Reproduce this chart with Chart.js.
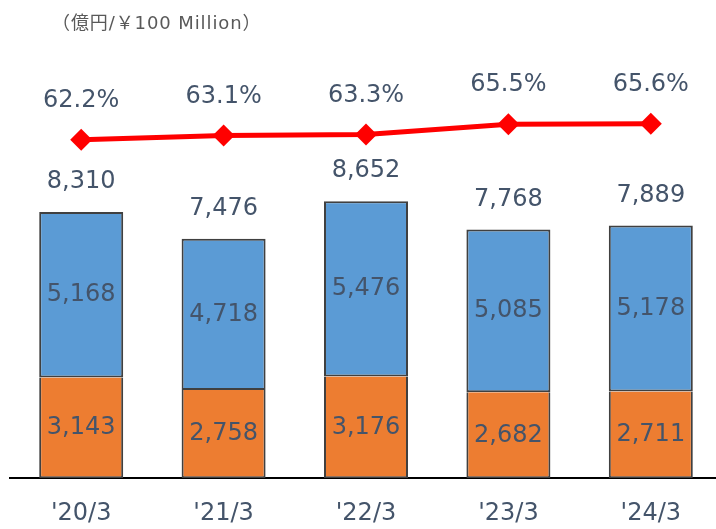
<!DOCTYPE html>
<html lang="ja">
<head>
<meta charset="UTF-8">
<title>Chart</title>
<script src="https://cdn.jsdelivr.net/npm/chart.js"></script>
<style>
    body {
        margin: 0;
        width: 716px;
        height: 529px;
        overflow: hidden;
        background: #fff;
        font-family: "DejaVu Sans", Verdana, sans-serif;
    }
    #wrap {
        position: relative;
        width: 734px;
        height: 557px;
        margin-left: -1px;
    }
    .unit {
        position: absolute;
        left: 53px;
        top: 8px;
        font-size: 18px;
        letter-spacing: 0.9px;
        color: #595959;
        font-family: "DejaVu Sans", "Noto Sans CJK JP", sans-serif;
    }
</style>
</head>
<body>
<div id="wrap">
    <canvas id="chart" width="734" height="557"></canvas>
    <div class="unit">（億円/￥100 Million）</div>
</div>
<script>
    const categories = ["'20/3", "'21/3", "'22/3", "'23/3", "'24/3"];
    const lowerValues = [3143, 2758, 3176, 2682, 2711];
    const upperValues = [5168, 4718, 5476, 5085, 5178];
    const totals = [8310, 7476, 8652, 7768, 7889];
    const ratios = [62.2, 63.1, 63.3, 65.5, 65.6];

    const textColor = '#44546a';
    const labelFont = '24px "DejaVu Sans", Verdana, sans-serif';

    const labelPlugin = {
        id: 'labels',
        afterDatasetsDraw(chart) {
            const ctx = chart.ctx;
            ctx.save();
            ctx.font = labelFont;
            ctx.fillStyle = textColor;
            ctx.textAlign = 'center';
            ctx.textBaseline = 'middle';
            const lower = chart.getDatasetMeta(1);
            const upper = chart.getDatasetMeta(2);
            const line = chart.getDatasetMeta(0);
            lower.data.forEach((bar, i) => {
                ctx.fillText(lowerValues[i].toLocaleString('en-US'), bar.x, (bar.y + bar.base) / 2);
            });
            upper.data.forEach((bar, i) => {
                ctx.fillText(upperValues[i].toLocaleString('en-US'), bar.x, (bar.y + bar.base) / 2);
                ctx.fillText(totals[i].toLocaleString('en-US'), bar.x, bar.y - 30);
            });
            line.data.forEach((pt, i) => {
                ctx.fillText(ratios[i].toFixed(1) + '%', pt.x, pt.y - 39);
            });
            ctx.restore();
        }
    };

    new Chart(document.getElementById('chart').getContext('2d'), {
        type: 'bar',
        data: {
            labels: categories,
            datasets: [
                {
                    type: 'line',
                    data: ratios,
                    yAxisID: 'y2',
                    borderColor: '#ff0000',
                    backgroundColor: '#ff0000',
                    borderWidth: 5,
                    pointStyle: 'rectRot',
                    pointRadius: 11,
                    pointBorderWidth: 0,
                    tension: 0,
                    order: 0
                },
                {
                    data: lowerValues,
                    backgroundColor: '#ed7d31',
                    borderColor: '#404040',
                    borderWidth: 2,
                    borderSkipped: 'top',
                    stack: 's',
                    order: 1
                },
                {
                    data: upperValues,
                    backgroundColor: '#5b9bd5',
                    borderColor: '#404040',
                    borderWidth: 2,
                    borderSkipped: false,
                    stack: 's',
                    order: 1
                }
            ]
        },
        options: {
            responsive: false,
            animation: false,
            events: [],
            layout: { padding: { left: 5, right: 0, top: 94, bottom: 8 } },
            datasets: { bar: { barPercentage: 1, categoryPercentage: 0.59 } },
            plugins: {
                legend: { display: false },
                tooltip: { enabled: false }
            },
            scales: {
                x: {
                    stacked: true,
                    grid: { display: false, drawTicks: false },
                    border: { color: '#000', width: 2 },
                    ticks: {
                        color: textColor,
                        padding: 21,
                        font: { size: 24, family: '"DejaVu Sans", Verdana, sans-serif' }
                    }
                },
                y: {
                    stacked: true,
                    display: false,
                    min: 0,
                    max: 12000
                },
                y2: {
                    display: false,
                    min: -9.5,
                    max: 71.9
                }
            }
        },
        plugins: [labelPlugin]
    });
</script>
</body>
</html>
